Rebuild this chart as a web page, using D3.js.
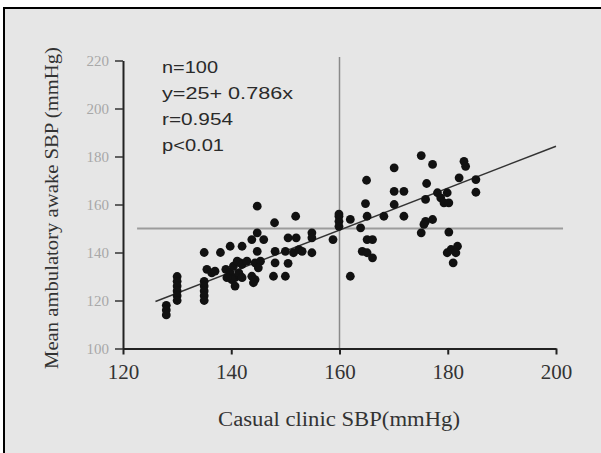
<!DOCTYPE html>
<html>
<head>
<meta charset="utf-8">
<script src="https://cdn.jsdelivr.net/npm/d3@7"></script>
<style>
  body { margin: 0; background: #fff; }
  svg { display: block; }
</style>
</head>
<body>
<div id="chart"></div>
<script>
// data
const clinicSBP = [128, 128, 128,
  130, 130, 130, 130, 130, 130,
  135, 135, 135, 135, 135, 135, 135.5, 136.4, 137,
  138, 139, 139.8, 140.4, 140.7, 141.7, 140.1, 139.2, 141.7, 139.8, 142, 141.1, 142, 142.9, 144.4, 145.4, 145, 141.4, 142, 143.8, 144.4, 144.1, 140.7,
  144.8, 144.8, 143.8, 146, 144.8, 148, 151.9, 150.5, 152, 154.9, 154.9, 158.8,
  148.1, 150, 151.5, 152.5, 153.1, 154.9, 148.1, 150.5, 147.8, 150, 162,
  159.9, 159.9, 159.9, 159.9, 162, 163.9, 164.8, 165.1, 168.2, 165.1, 166.1, 164.2, 165.1, 166.1,
  170.1, 171.9, 170.1, 171.9, 165, 170.1,
  175.1, 177.2, 183, 183.3, 182.1, 185.2, 185.2, 176.1, 175.9, 178.1, 178.7, 179.3, 179.9, 180.2,
  175.9, 177.2, 175.6, 175.1, 180.2, 180.6, 181.8, 181.5, 179.9, 181];
const awakeSBP = [118, 116, 114,
  130, 128, 126, 124, 122, 120,
  140, 128, 126, 124, 122, 120, 133, 131.5, 132.2,
  140, 133, 131.5, 134.3, 129.5, 130.1, 128.7, 129.5, 135.7, 142.6, 142.6, 136.4, 135, 136.4, 135.7, 136.4, 133.6, 131.5, 129.5, 130.1, 128.7, 127.4, 126,
  140.5, 148.2, 145.4, 145.4, 159.3, 152.4, 155.1, 146.1, 146.1, 148.2, 146.1, 145.4,
  140.5, 140.5, 139.9, 141.2, 140.5, 139.9, 135.7, 135.5, 130.1, 130.1, 130.1,
  155.1, 153, 150.9, 156, 153.8, 150.3, 160.4, 155.1, 155.1, 145.4, 145.4, 140.5, 139.9, 137.8,
  165.5, 165.5, 160, 155.1, 170.1, 175.3,
  180.4, 176.7, 178, 175.9, 171.1, 170.4, 165.1, 168.75, 162.1, 164.9, 162.8, 160.7, 164.9, 160.7,
  153, 153.75, 151.7, 148.2, 148.5, 141.25, 142.6, 139.9, 139.9, 135.7];

const xTicks = [120, 140, 160, 180, 200];
const yTicks = [100, 120, 140, 160, 180, 200, 220];
const fitX = [126, 200];
const fitY = [119.6, 184.3];
const refClinic = 160;   // vertical reference
const refAwake = 150;    // horizontal reference
const statsText = ["n=100", "y=25+ 0.786x", "r=0.954", "p<0.01"];
const statsWidth = [56, 131, 71, 62]; // text is stretched in the original

const width = 601;
const height = 453;

const svg = d3.select("#chart")
  .append("svg")
  .attr("width", width)
  .attr("height", height);

// panel
svg.append("rect")
  .attr("x", 4).attr("y", 8)
  .attr("width", 720).attr("height", 520)
  .attr("fill", "#e6e6e6")
  .attr("stroke", "#000")
  .attr("stroke-width", 2);

const x = d3.scaleLinear().domain([120, 200]).range([123, 556]);
const y = d3.scaleLinear().domain([100, 220]).range([348.5, 60.5]);

// reference lines
svg.append("line")
  .attr("x1", x(122.6)).attr("x2", x(201.3))
  .attr("y1", y(refAwake)).attr("y2", y(refAwake))
  .attr("stroke", "#9c9c9c").attr("stroke-width", 2);

svg.append("line")
  .attr("x1", x(refClinic)).attr("x2", x(refClinic))
  .attr("y1", y(221.5)).attr("y2", y(100))
  .attr("stroke", "#8a8a8a").attr("stroke-width", 1.5);

// axes
const xAxis = svg.append("g")
  .attr("transform", `translate(0,${y(100)})`)
  .call(d3.axisBottom(x).tickValues(xTicks).tickSize(6).tickSizeOuter(0).tickPadding(10));
xAxis.select(".domain").attr("stroke", "#222").attr("stroke-width", 2);
xAxis.selectAll(".tick line").attr("stroke", "#222").attr("stroke-width", 2);
xAxis.selectAll(".tick text")
  .attr("fill", "#333")
  .style("font-family", "'Liberation Serif', 'DejaVu Serif', serif")
  .style("font-size", "21px");

const yAxis = svg.append("g")
  .attr("transform", `translate(${x(120)},0)`)
  .call(d3.axisLeft(y).tickValues(yTicks).tickSize(8).tickSizeOuter(0).tickPadding(6));
yAxis.select(".domain").attr("stroke", "#222").attr("stroke-width", 2);
yAxis.selectAll(".tick line").attr("stroke", "#333").attr("stroke-width", 1.5);
yAxis.selectAll(".tick text")
  .attr("fill", "#a8a8a8")
  .style("font-family", "'Liberation Serif', 'DejaVu Serif', serif")
  .style("font-size", "15px");

// fitted line
svg.append("line")
  .attr("x1", x(fitX[0])).attr("y1", y(fitY[0]))
  .attr("x2", x(fitX[1])).attr("y2", y(fitY[1]))
  .attr("stroke", "#333").attr("stroke-width", 1.5);

// points
svg.append("g")
  .selectAll("circle")
  .data(d3.zip(clinicSBP, awakeSBP))
  .join("circle")
  .attr("cx", d => x(d[0]))
  .attr("cy", d => y(d[1]))
  .attr("r", 4.4)
  .attr("fill", "#111");

// stats block
svg.append("g")
  .selectAll("text")
  .data(statsText)
  .join("text")
  .attr("x", 162)
  .attr("y", (d, i) => 73 + i * 26)
  .attr("fill", "#2a2a2a")
  .attr("textLength", (d, i) => statsWidth[i])
  .attr("lengthAdjust", "spacingAndGlyphs")
  .style("font-family", "'Liberation Sans', Arial, sans-serif")
  .style("font-size", "17px")
  .text(d => d);

// axis titles
svg.append("text")
  .attr("x", 339).attr("y", 426)
  .attr("text-anchor", "middle")
  .attr("fill", "#333")
  .attr("textLength", 242)
  .attr("lengthAdjust", "spacingAndGlyphs")
  .style("font-family", "'Liberation Serif', 'DejaVu Serif', serif")
  .style("font-size", "20px")
  .text("Casual clinic SBP(mmHg)");

svg.append("text")
  .attr("transform", "translate(58,208) rotate(-90)")
  .attr("text-anchor", "middle")
  .attr("fill", "#333")
  .attr("textLength", 322)
  .attr("lengthAdjust", "spacingAndGlyphs")
  .style("font-family", "'Liberation Serif', 'DejaVu Serif', serif")
  .style("font-size", "19px")
  .text("Mean ambulatory awake SBP (mmHg)");
</script>
</body>
</html>
